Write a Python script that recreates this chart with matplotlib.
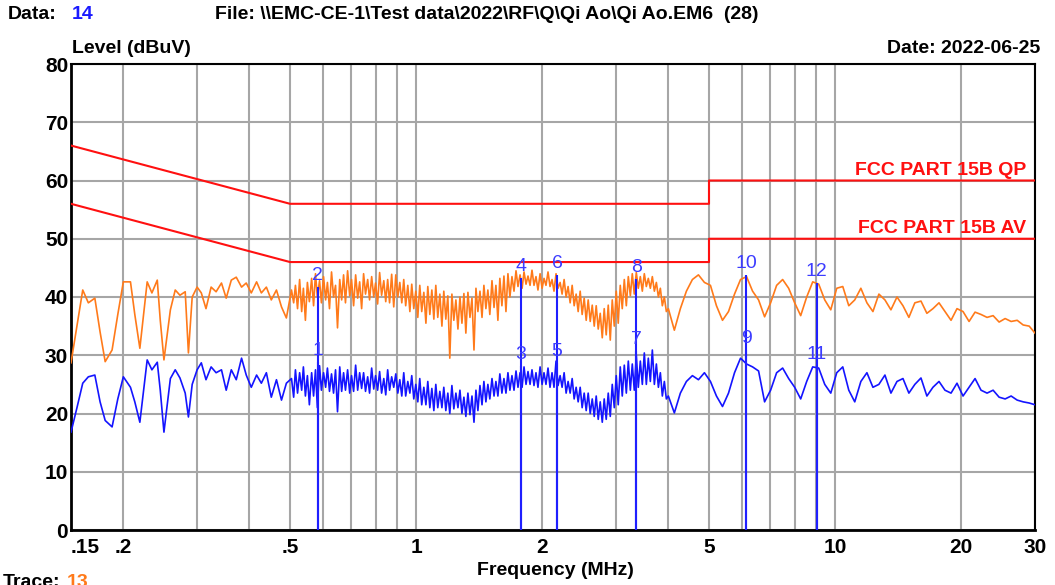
import matplotlib
matplotlib.use("Agg")
from matplotlib import pyplot as plt

# 0.15 - 0.5 MHz sweep points (MHz), peak (orange) and average (blue) in dBuV
freq_low = [0.150,0.155,0.160,0.165,0.171,0.176,0.181,0.188,0.194,0.200,
            0.208,0.213,0.219,0.228,0.234,0.241,0.245,0.250,0.259,0.266,
            0.273,0.281,0.286,0.292,0.300,
            0.307,0.315,0.324,0.333,0.343,0.352,0.362,0.372,0.383,0.393,
            0.404,0.416,0.427,0.439,0.451,0.464,0.477,0.490]
peak_low = [28.7,35.0,41.2,39.0,39.8,34.0,28.9,30.9,37.0,42.6,
            42.6,37.0,31.2,42.6,40.7,42.9,36.0,29.2,37.8,41.2,
            40.3,40.9,30.4,40.0,41.7,
            40.7,38.0,41.7,40.9,42.4,39.8,42.9,43.4,41.7,42.4,
            40.7,42.6,40.7,41.7,39.5,41.2,38.3,36.4]
avg_low = [16.8,21.0,25.2,26.3,26.6,22.0,18.8,17.7,22.5,26.3,
           24.5,22.0,18.5,29.2,27.5,28.8,24.0,16.8,26.0,27.5,
           26.1,23.5,19.4,25.0,27.5,
           28.7,25.8,28.0,27.0,27.5,24.0,27.5,25.8,29.5,26.6,
           24.5,26.6,25.2,27.0,22.8,25.8,22.3,25.2]

# 0.5 - 4 MHz: noisy part, upper readings
freq_mid_hi = [0.504,0.515,0.527,0.538,0.550,0.563,0.575,0.588,0.601,0.614,
               0.628,0.642,0.657,0.671,0.686,0.701,0.717,0.733,0.749,0.766,
               0.783,0.800,0.818,0.837,0.855,0.874,0.894,0.914,0.934,0.955,
               0.976,0.998,1.020,1.043,1.066,1.090,1.114,1.139,1.164,1.190,
               1.217,1.244,1.272,1.300,1.329,1.359,1.389,1.420,1.451,1.483,
               1.517,1.550,1.584,1.620,1.656,1.693,1.731,1.770,1.809,1.849,
               1.890,1.932,1.976,2.019,2.064,2.110,2.157,2.206,2.255,2.305,
               2.357,2.409,2.463,2.518,2.574,2.632,2.690,2.750,2.811,2.874,
               2.938,3.003,3.070,3.139,3.209,3.280,3.353,3.428,3.504,3.582,
               3.662,3.744,3.827,3.912,3.999]
peak_mid_hi = [41.2,42.0,43.0,41.5,42.5,43.2,44.0,42.8,43.5,42.5,
               44.3,42.0,43.0,43.8,44.5,43.0,43.8,42.6,44.0,43.0,
               43.5,42.4,44.2,42.8,43.0,43.9,43.8,42.5,43.0,42.0,
               42.2,41.0,42.0,40.8,41.8,41.2,42.0,40.5,41.0,40.2,
               40.5,39.5,40.0,40.6,40.8,39.8,41.5,41.0,42.0,41.2,
               42.8,42.0,43.2,43.6,44.0,43.5,44.5,43.8,44.3,43.6,
               44.6,43.5,44.0,43.2,44.3,43.0,44.0,42.5,43.0,41.8,
               42.0,40.5,41.0,39.8,39.5,38.6,38.5,37.2,38.0,38.6,
               39.5,41.0,42.0,43.0,43.5,44.0,44.2,43.5,44.0,43.2,
               43.5,42.5,41.5,40.0,38.0]
avg_mid_hi = [26.0,27.5,27.0,28.0,26.5,27.0,27.5,28.2,27.0,27.8,
              26.8,27.5,28.0,27.0,27.5,26.5,28.3,27.0,27.0,26.3,
              27.8,26.5,27.2,26.0,27.5,26.3,26.8,25.8,27.0,25.5,
              26.5,25.0,26.0,24.5,25.5,24.3,25.0,23.8,24.5,23.5,
              24.8,23.5,24.0,22.8,23.5,23.0,24.0,24.8,25.5,25.0,
              26.0,25.5,26.8,26.0,27.0,26.5,27.3,27.0,28.0,27.2,
              27.5,27.0,28.0,27.0,27.8,27.0,29.0,26.5,27.0,25.5,
              26.0,24.5,24.5,23.5,23.5,22.5,23.0,22.0,22.5,23.5,
              25.0,26.5,28.0,28.3,29.0,28.5,30.0,29.0,30.4,29.5,
              30.9,28.5,27.0,25.5,23.0]

# 0.5 - 4 MHz: noisy part, lower readings (between the upper ones)
freq_mid_lo = [0.510,0.521,0.533,0.544,0.556,0.569,0.581,0.594,0.608,0.621,
               0.635,0.649,0.664,0.678,0.694,0.709,0.725,0.741,0.757,0.774,
               0.792,0.809,0.827,0.846,0.864,0.884,0.904,0.924,0.944,0.966,
               0.987,1.009,1.031,1.055,1.078,1.102,1.126,1.152,1.177,1.203,
               1.230,1.258,1.286,1.314,1.344,1.374,1.404,1.436,1.467,1.499,
               1.534,1.567,1.602,1.638,1.674,1.712,1.750,1.790,1.829,1.870,
               1.911,1.953,1.998,2.041,2.087,2.133,2.181,2.230,2.280,2.331,
               2.383,2.436,2.490,2.546,2.603,2.661,2.720,2.781,2.842,2.906,
               2.971,3.036,3.104,3.174,3.245,3.316,3.390,3.466,3.543,3.622,
               3.703,3.786,3.869,3.955]
peak_mid_lo = [39.0,38.0,37.5,36.0,39.2,38.5,40.0,39.0,39.5,38.0,
               40.0,34.7,39.5,39.0,40.2,38.5,39.8,38.0,40.5,39.5,
               40.0,38.8,40.3,39.2,39.0,38.3,40.0,39.0,38.5,37.5,
               38.0,36.5,37.5,35.5,37.0,36.2,36.5,35.0,36.2,29.5,
               36.0,34.5,35.5,33.8,36.5,30.9,37.5,36.5,38.0,37.0,
               38.2,36.0,38.5,37.5,40.0,41.0,41.8,41.5,42.2,42.0,
               42.0,41.2,41.5,42.0,41.8,41.0,41.5,40.5,40.0,39.0,
               38.5,37.5,37.0,36.0,35.8,35.0,34.5,33.0,33.5,32.6,
               35.0,35.5,38.0,38.5,40.2,40.5,41.5,41.0,41.8,41.5,
               41.0,40.0,38.5,37.5]
avg_mid_lo = [22.8,23.5,24.0,23.0,21.5,23.0,21.0,24.0,24.5,23.8,
              23.5,20.3,23.8,24.0,23.5,23.8,24.0,24.3,23.8,23.5,
              24.2,24.0,23.5,23.2,24.0,24.5,23.5,23.0,23.0,23.5,
              22.5,22.0,21.5,21.5,21.0,20.5,21.0,21.0,20.5,20.0,
              20.8,21.0,20.0,19.5,19.8,18.5,20.5,21.5,22.0,22.5,
              23.0,23.0,23.5,23.5,24.0,24.0,24.5,24.5,25.0,25.0,
              24.8,24.5,25.0,25.0,24.5,24.5,24.8,24.5,23.5,23.5,
              22.5,22.0,21.0,20.5,20.0,19.5,19.0,18.5,19.0,19.5,
              21.0,21.5,23.0,23.5,24.0,24.0,24.5,25.0,25.0,25.5,
              25.0,24.5,23.0,22.5]

# 4 - 30 MHz
freq_high = [4.133,4.272,4.416,4.564,4.718,4.876,5.040,5.209,5.385,5.566,
             5.753,5.946,6.146,6.353,6.566,6.787,7.015,7.251,7.495,7.747,
             8.007,8.276,8.554,8.842,9.139,9.446,9.764,10.09,10.43,10.78,
             11.14,11.52,11.91,12.31,12.72,13.15,13.59,14.05,14.52,15.00,
             15.50,16.03,16.56,17.12,17.70,18.29,18.91,19.54,20.20,20.88,
             21.58,22.30,23.05,23.83,24.63,25.46,26.31,27.20,28.11,29.06,
             30.0]
peak_high = [34.3,38.0,41.0,43.0,43.8,42.5,42.0,38.5,36.0,37.5,
             40.5,43.0,43.5,41.0,39.5,36.6,39.0,42.0,43.0,41.5,
             39.0,36.8,40.0,42.6,42.2,39.5,37.8,41.5,41.8,38.5,
             39.5,41.5,39.0,37.5,40.5,39.5,37.8,40.0,38.5,36.5,
             39.0,39.3,37.2,38.0,39.0,37.5,36.0,38.0,37.5,35.8,
             37.4,37.0,36.5,36.8,35.7,36.3,35.8,36.0,35.2,35.0,
             33.8]
avg_high = [20.1,23.5,25.5,26.5,25.8,27.0,25.5,23.0,21.2,23.5,
            27.0,29.5,28.5,28.0,27.3,22.0,24.0,27.0,27.8,26.0,
            24.5,22.5,25.5,28.0,27.8,25.0,23.5,27.0,28.0,24.0,
            22.0,25.5,27.0,24.5,25.0,26.6,23.5,25.5,26.0,23.5,
            25.0,26.1,23.0,24.5,25.5,24.0,23.5,25.2,23.0,24.5,
            26.0,24.0,23.5,24.0,22.8,22.5,23.0,22.3,22.0,21.8,
            21.5]

# FCC part 15B limits
qp_freq = [0.15, 0.5, 5, 5, 30]
qp_level = [66, 56, 56, 60, 60]
av_freq = [0.15, 0.5, 5, 5, 30]
av_level = [56, 46, 46, 50, 50]

# markers 1..12
marker_no = [1, 2, 3, 4, 5, 6, 7, 8, 9, 10, 11, 12]
marker_freq = [0.582, 0.582, 1.78, 1.78, 2.17, 2.17, 3.35, 3.35, 6.14, 6.14, 9.03, 9.03]
marker_level = [28.8, 41.7, 28.1, 43.3, 28.7, 43.8, 30.7, 43.1, 30.9, 43.8, 28.1, 42.4]

x_labels = [0.15, 0.2, 0.5, 1, 2, 5, 10, 20, 30]
x_label_text = [".15", ".2", ".5", "1", "2", "5", "10", "20", "30"]
x_minor = [0.3, 0.4, 0.6, 0.7, 0.8, 0.9, 3, 4, 6, 7, 8, 9]


def sweep(lo_f, lo_v, hi_f, hi_v, lo2_f, lo2_v, top_f, top_v):
    # put all readings of one trace in frequency order
    pts = list(zip(lo_f, lo_v)) + list(zip(hi_f, hi_v)) + list(zip(lo2_f, lo2_v)) + list(zip(top_f, top_v))
    pts.sort()
    return [p[0] for p in pts], [p[1] for p in pts]

f_pk, l_pk = sweep(freq_low, peak_low, freq_mid_hi, peak_mid_hi, freq_mid_lo, peak_mid_lo, freq_high, peak_high)
f_av, l_av = sweep(freq_low, avg_low, freq_mid_hi, avg_mid_hi, freq_mid_lo, avg_mid_lo, freq_high, avg_high)

plt.rcParams['font.family'] = ['Liberation Sans', 'DejaVu Sans']

W, H = 1055, 585
fig = plt.figure(figsize=(W/100, H/100), dpi=100)
ax = fig.add_axes([71/W, 55/H, (1035-71)/W, (530-64)/H])

ax.set_xscale('log')
ax.set_xlim(0.15, 30)
ax.set_ylim(0, 80)
ax.set_xticks(x_labels)
ax.set_xticklabels(x_label_text)
ax.set_xticks(x_minor, minor=True)
ax.set_xticklabels([], minor=True)
ax.set_yticks(range(0, 81, 10))
ax.grid(True, which='both', color='#a6a6a6', lw=1.5)
ax.set_axisbelow(True)
ax.tick_params(which='both', length=0)
ax.tick_params(axis='y', pad=2, labelsize=15)
ax.tick_params(axis='x', pad=6, labelsize=15)
for lab in ax.get_xticklabels() + ax.get_yticklabels():
    lab.set_fontweight('bold')
ax.get_xticklabels()[0].set_horizontalalignment('left')

for s in ['left', 'bottom']:
    ax.spines[s].set_linewidth(2)
for s in ['top', 'right']:
    ax.spines[s].set_linewidth(1.5)

ax.plot(f_pk, l_pk, color='#ff7a1a', lw=1.2, zorder=3)
ax.plot(f_av, l_av, color='#1414ff', lw=1.2, zorder=3)
ax.plot(qp_freq, qp_level, color='#ff1010', lw=1.5, zorder=4)
ax.plot(av_freq, av_level, color='#ff1010', lw=1.5, zorder=4)

ax.text(28.6, 60.9, "FCC PART 15B QP", color='#ff1010', fontsize=14,
        fontweight='bold', ha='right', va='baseline', zorder=5)
ax.text(28.6, 51.0, "FCC PART 15B AV", color='#ff1010', fontsize=14,
        fontweight='bold', ha='right', va='baseline', zorder=5)

ax.vlines(marker_freq, 0, marker_level, color='#1f1fff', lw=1.5, zorder=5)
for n, f, lv in zip(marker_no, marker_freq, marker_level):
    ax.annotate(str(n), (f, lv), xytext=(0, 5), textcoords='offset points',
                ha='center', va='baseline', color='#3c3cff', fontsize=14, zorder=6)

def ftext(x, y, s, **kw):
    fig.text(x/W, 1 - y/H, s, fontsize=14, fontweight='bold', **kw)

ftext(8, 6, "Data:", va='top')
ftext(72, 6, "14", va='top', color='#1a1aff')
ftext(215, 6, "File: \\\\EMC-CE-1\\Test data\\2022\\RF\\Q\\Qi Ao\\Qi Ao.EM6  (28)", va='top')
ftext(72, 40, "Level (dBuV)", va='top')
ftext(1040, 40, "Date: 2022-06-25", va='top', ha='right')
ftext(555, 562, "Frequency (MHz)", va='top', ha='center')
ftext(3, 574, "Trace:", va='top')
ftext(67, 574, "13", va='top', color='#ff7a1a')

fig.savefig("out.png", dpi=100)
